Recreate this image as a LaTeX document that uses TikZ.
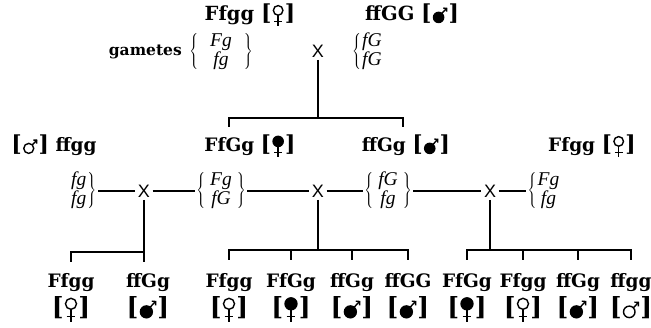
\documentclass[tikz,border=0pt]{standalone}
\usepackage{fontspec}
\setmainfont{DejaVu Serif}
\newfontfamily\gamfont{Liberation Serif}
\newfontfamily\xfont{Liberation Sans}
% sex symbols
\newcommand\femO[1][1]{\tikz[x=#1pt,y=#1pt,line width=1.4pt,baseline=0pt]{\draw (0,10.6) circle (4.8); \draw (0,5.8)--(0,-4.8); \draw (-3.8,-0.3)--(3.8,-0.3);}}
\newcommand\femF[1][1]{\tikz[x=#1pt,y=#1pt,line width=1.4pt,baseline=0pt]{\fill (0,10.6) circle (5.8); \draw (0,5.5)--(0,-4.8); \draw (-3.8,-0.3)--(3.8,-0.3);}}
\newcommand\malO[1][1]{\tikz[x=#1pt,y=#1pt,line width=1.4pt,baseline=0pt]{\draw (-1,3.6) circle (5); \draw (2.5,7.1)--(7,11.8); \draw (3.5,12)--(7,11.8)--(6.9,8.3);}}
\newcommand\malF[1][1]{\tikz[x=#1pt,y=#1pt,line width=1.4pt,baseline=0pt]{\fill (-1,3.6) circle (5.8); \draw (2.2,7.6)--(7,12.6); \draw (3.7,12.9)--(7,12.6)--(7,9.3);}}
\newcommand\sx[2][22]{{\fontsize{#1}{#1}\selectfont[}\hspace{1.2pt}#2\hspace{1.2pt}{\fontsize{#1}{#1}\selectfont]}}
% gamete groups: left delim, top, bottom, right delim, inner padding
\newcommand\gp[5]{$\left#1\hspace{#5}\begin{tabular}{@{}c@{}}\gamfont\itshape #2\\\gamfont\itshape #3\end{tabular}\hspace{#5}\right#4$}
\tikzset{
  geno/.style={font=\fontsize{18.5}{22}\selectfont\bfseries, inner sep=0pt, anchor=base},
  topg/.style={geno, font=\fontsize{19.5}{22}\selectfont\bfseries},
  lbl/.style={font=\fontsize{15.5}{18}\selectfont\bfseries, inner sep=0pt},
  gam/.style={font=\fontsize{19.5}{18}\selectfont, inner sep=1.5pt},
  cross/.style={font=\xfont\fontsize{18}{18}\selectfont, inner sep=2.5pt},
  conn/.style={line width=1.4pt}
}
\begin{document}
\begin{tikzpicture}[x=1pt,y=-1pt]
\useasboundingbox (0,0) rectangle (651,328);
% parents
\node[topg] (p1) at (250,21) {Ffgg \sx{\femO}};
\node[topg] (p2) at (412,21) {ffGG \sx{\malF}};
\node[lbl,anchor=base east] (gm) at (182,56) {gametes};
\node[gam] (g1) at (221,52) {\gp{\{}{Fg}{fg}{\}}{12pt}};
\node[cross] (x1) at (318,51) {X};
\node[gam] (g2) at (368,52) {\gp{\{}{fG}{fG}{.}{1pt}};
% second row
\node[geno] (r1) at (54,152) {\sx{\malO} ffgg};
\node[geno] (r2) at (250,152) {FfGg \sx{\femF}};
\node[geno] (r3) at (406,152) {ffGg \sx{\malF}};
\node[geno] (r4) at (592,152) {Ffgg \sx{\femO}};
% crosses
\node[gam,anchor=east] (g3) at (98,191) {\gp{.}{fg}{fg}{\}}{1pt}};
\node[cross] (x2) at (144,191) {X};
\node[gam] (g4) at (221,191) {\gp{\{}{Fg}{fG}{\}}{5pt}};
\node[cross] (x3) at (318,191) {X};
\node[gam] (g5) at (388,191) {\gp{\{}{fG}{fg}{\}}{5pt}};
\node[cross] (x4) at (490,191) {X};
\node[gam,anchor=west] (g6) at (526,191) {\gp{\{}{Fg}{fg}{.}{1pt}};
% offspring
\node[geno] (b1) at (71,288) {Ffgg};
\node[geno] (s1) at (71,316) {\sx[25]{\femO[1.15]}};
\node[geno] (b2) at (148,288) {ffGg};
\node[geno] (s2) at (148,316) {\sx[25]{\malF[1.15]}};
\node[geno] (b3) at (229,288) {Ffgg};
\node[geno] (s3) at (229,316) {\sx[25]{\femO[1.15]}};
\node[geno] (b4) at (291,288) {FfGg};
\node[geno] (s4) at (291,316) {\sx[25]{\femF[1.15]}};
\node[geno] (b5) at (352,288) {ffGg};
\node[geno] (s5) at (352,316) {\sx[25]{\malF[1.15]}};
\node[geno] (b6) at (408,288) {ffGG};
\node[geno] (s6) at (408,316) {\sx[25]{\malF[1.15]}};
\node[geno] (b7) at (467,288) {FfGg};
\node[geno] (s7) at (467,316) {\sx[25]{\femF[1.15]}};
\node[geno] (b8) at (523,288) {Ffgg};
\node[geno] (s8) at (523,316) {\sx[25]{\femO[1.15]}};
\node[geno] (b9) at (578,288) {ffGg};
\node[geno] (s9) at (578,316) {\sx[25]{\malF[1.15]}};
\node[geno] (b10) at (631,288) {ffgg};
\node[geno] (s10) at (631,316) {\sx[25]{\malO[1.15]}};
% helper levels
\coordinate (h0) at (0,118); \coordinate (ja) at (229,127); \coordinate (jb) at (403,127);
\coordinate (h1) at (0,252); \coordinate (t1) at (0,262);
\coordinate (h2) at (0,250); \coordinate (t2) at (0,260);
% connectors
\draw[conn] (x1.south) -- (x1 |- h0);
\draw[conn] (ja) -- (ja |- h0) -- (jb |- h0) -- (jb);
\draw[conn] (g3) -- (x2) -- (g4) -- (x3) -- (g5) -- (x4) -- (g6);
\draw[conn] (x2.south) -- (x2 |- t1);
\draw[conn] (x2 |- h1) -- (b1 |- h1) -- (b1 |- t1);
\draw[conn] (x3.south) -- (x3 |- h2);
\draw[conn] (b3 |- t2) -- (b3 |- h2) -- (b6 |- h2) -- (b6 |- t2);
\draw[conn] (b4 |- h2) -- (b4 |- t2);
\draw[conn] (b5 |- h2) -- (b5 |- t2);
\draw[conn] (x4.south) -- (x4 |- h2);
\draw[conn] (b7 |- t2) -- (b7 |- h2) -- (b10 |- h2) -- (b10 |- t2);
\draw[conn] (b8 |- h2) -- (b8 |- t2);
\draw[conn] (b9 |- h2) -- (b9 |- t2);
\end{tikzpicture}
\end{document}
